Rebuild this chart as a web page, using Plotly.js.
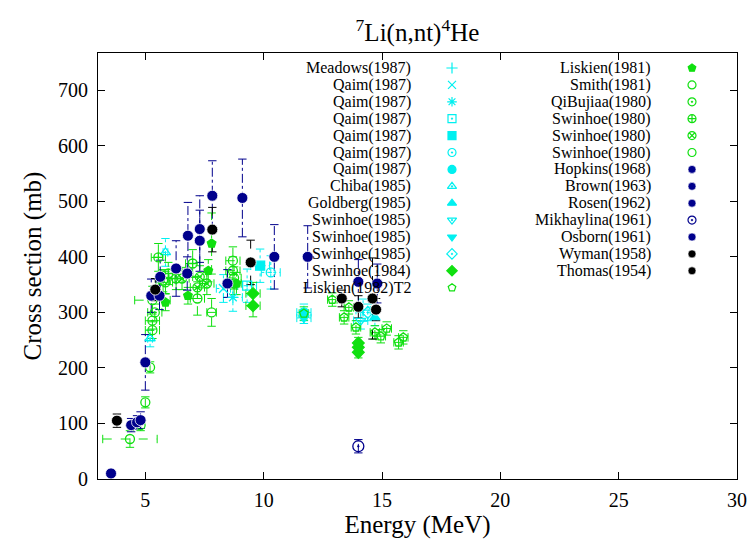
<!DOCTYPE html>
<html>
<head>
<meta charset="utf-8">
<script src="https://cdn.plot.ly/plotly-3.0.1.min.js"></script>
<style>html,body{margin:0;padding:0;background:#fff;}#chart{width:754px;height:540px;}</style>
</head>
<body>
<div id="chart"></div>
<script>
// Data rows: [Energy (MeV), cross section (mb), d sigma, d E]
const Meadows1987   = [[14.2, 304, 20, 0.3]];
const Qaim1987a     = [[8.3, 343, 25, 0.3]];
const Qaim1987b     = [[8.7, 327, 25, 0.4]];
const Qaim1987c     = [[9.3, 348, 30, 0.4]];
const Qaim1987d     = [[9.85, 384, 30, 0.4]];
const Qaim1987e     = [[10.3, 372, 30, 0.4]];
const Qaim1987f     = [[11.7, 300, 15, 0.3]];
const Chiba1985     = [[5.2, 253, 15, 0.1], [5.85, 408, 25, 0.1]];
const Goldberg1985  = [[14.7, 291, 15, 0]];
const Swinhoe1985a  = [[14.1, 285, 15, 0.3]];
const Swinhoe1985b  = [[11.7, 290, 10, 0.3]];
const Swinhoe1985c  = [[14.4, 300, 15, 0.3]];
const Swinhoe1984   = [[14.0, 228, 10, 0.1], [14.0, 237, 10, 0.1], [14.0, 245, 10, 0.1], [9.55, 334, 20, 0.3], [9.55, 312, 20, 0.3]];
const Liskien1982T2 = [[11.7, 298, 12, 0.2], [12.9, 323, 12, 0.2], [13.4, 291, 12, 0.2], [13.6, 309, 12, 0.2], [13.9, 273, 12, 0.2], [14.7, 264, 12, 0.2], [14.95, 257, 12, 0.2], [15.2, 271, 12, 0.2], [15.7, 246, 12, 0.2], [15.9, 255, 12, 0.2]];
const Liskien1981   = [[5.85, 318, 15, 0], [6.8, 330, 15, 0], [7.66, 375, 20, 0], [7.8, 424, 55, 0], [8.85, 352, 20, 0]];
const Smith1981     = [[4.35, 72, 15, 1.15], [4.8, 97, 10, 0], [5.0, 138, 10, 0], [5.2, 201, 10, 0]];
const QiBujiaa1980  = [[5.3, 268, 15, 0.3], [5.3, 285, 15, 0.3], [5.4, 300, 15, 0.3], [5.3, 322, 25, 0.75]];
const Swinhoe1980a  = [[5.55, 399, 25, 0.3], [5.97, 370, 20, 0.3], [6.3, 361, 20, 0.3], [7.0, 388, 25, 0.3]];
const Swinhoe1980b  = [[5.75, 357, 20, 0.3], [6.55, 361, 20, 0.3], [7.2, 345, 20, 0.3], [7.3, 364, 20, 0.3], [7.6, 352, 20, 0.3]];
const Swinhoe1980c  = [[5.85, 354, 20, 0.3], [7.2, 325, 30, 0.3], [8.7, 393, 25, 0.3], [8.7, 375, 25, 0.3], [8.75, 362, 20, 0.3], [8.75, 352, 20, 0.3], [7.8, 300, 25, 0.2]];
const Hopkins1968   = [[3.55, 10, 5, 0], [4.4, 97, 12, 0], [4.65, 102, 12, 0], [4.8, 106, 15, 0], [5.0, 210, 50, 0]];
const Brown1963     = [[5.25, 330, 30, 0], [5.6, 330, 25, 0], [5.63, 364, 30, 0]];
const Rosen1962     = [[6.3, 379, 50, 0], [6.8, 438, 60, 0], [7.3, 450, 60, 0], [7.3, 429, 55, 0], [7.83, 510, 63, 0], [9.1, 506, 70, 0], [10.45, 400, 58, 0], [11.86, 400, 56, 0]];
const Mikhaylina1961= [[14.0, 59, 12, 0]];
const Osborn1961    = [[6.77, 370, 30, 0], [8.47, 352, 25, 0], [14.0, 355, 40, 0], [14.8, 352, 35, 0]];
const Wyman1958     = [[3.8, 105, 12, 0], [5.42, 341, 20, 0], [7.83, 449, 40, 0], [9.45, 390, 40, 0], [14.75, 305, 20, 0]];
const Thomas1954    = [[13.3, 325, 15, 0], [14.6, 325, 73, 0], [14.0, 310, 20, 0]];

const xTicks = [5, 10, 15, 20, 25, 30];
const yTicks = [0, 100, 200, 300, 400, 500, 600, 700];

// Styles
const CY = '#00f0f0', GR = '#10e010', NV = '#00008c', BK = '#000000';
const series = [
  {name:'Meadows(1987)', d:Meadows1987, sym:'cross-thin-open', c:CY},
  {name:'Qaim(1987)', d:Qaim1987a, sym:'x-thin-open', c:CY},
  {name:'Qaim(1987)', d:Qaim1987b, sym:'asterisk-open', c:CY},
  {name:'Qaim(1987)', d:Qaim1987c, sym:'square-open-dot', c:CY},
  {name:'Qaim(1987)', d:Qaim1987d, sym:'square', c:CY},
  {name:'Qaim(1987)', d:Qaim1987e, sym:'circle-open-dot', c:CY},
  {name:'Qaim(1987)', d:Qaim1987f, sym:'circle', c:CY},
  {name:'Chiba(1985)', d:Chiba1985, sym:'triangle-up-open-dot', c:CY},
  {name:'Goldberg(1985)', d:Goldberg1985, sym:'triangle-up', c:CY},
  {name:'Swinhoe(1985)', d:Swinhoe1985a, sym:'triangle-down-open-dot', c:CY},
  {name:'Swinhoe(1985)', d:Swinhoe1985b, sym:'triangle-down', c:CY},
  {name:'Swinhoe(1985)', d:Swinhoe1985c, sym:'diamond-open-dot', c:CY},
  {name:'Swinhoe(1984)', d:Swinhoe1984, sym:'diamond', c:GR},
  {name:'Liskien(1982)T2', d:Liskien1982T2, sym:'pentagon-open', c:GR},
  {name:'Liskien(1981)', d:Liskien1981, sym:'pentagon', c:GR},
  {name:'Smith(1981)', d:Smith1981, sym:'circle-open', c:GR},
  {name:'QiBujiaa(1980)', d:QiBujiaa1980, sym:'circle-open-dot', c:GR},
  {name:'Swinhoe(1980)', d:Swinhoe1980a, sym:'circle-cross-open', c:GR},
  {name:'Swinhoe(1980)', d:Swinhoe1980b, sym:'circle-x-open', c:GR},
  {name:'Swinhoe(1980)', d:Swinhoe1980c, sym:'circle-open', c:GR},
  {name:'Hopkins(1968)', d:Hopkins1968, sym:'circle', c:NV},
  {name:'Brown(1963)', d:Brown1963, sym:'circle', c:NV},
  {name:'Rosen(1962)', d:Rosen1962, sym:'circle', c:NV},
  {name:'Mikhaylina(1961)', d:Mikhaylina1961, sym:'circle-open-dot', c:NV},
  {name:'Osborn(1961)', d:Osborn1961, sym:'circle', c:NV},
  {name:'Wyman(1958)', d:Wyman1958, sym:'circle', c:BK},
  {name:'Thomas(1954)', d:Thomas1954, sym:'circle', c:BK}
];
const dashFor = c => c === NV ? 'dashdot' : (c === CY ? 'dot' : 'dash');
const sizeFor = c => (c === NV || c === BK) ? 11 : 9;

const traces = [];
// error bars
series.forEach(s => {
  const vx = [], vy = [], hx = [], hy = [];
  s.d.forEach(r => {
    if (r[2] > 0) { vx.push(r[0], r[0], null); vy.push(r[1]-r[2], r[1]+r[2], null); }
    if (r[3] > 0) { hx.push(r[0]-r[3], r[0]+r[3], null); hy.push(r[1], r[1], null); }
  });
  const dash = dashFor(s.c);
  if (vx.length) traces.push({x:vx, y:vy, mode:'lines+markers', showlegend:false, hoverinfo:'skip',
    line:{color:s.c, width:1, dash:dash}, marker:{symbol:'line-ew-open', size:6, line:{color:s.c, width:1}}});
  if (hx.length) traces.push({x:hx, y:hy, mode:'lines+markers', showlegend:false, hoverinfo:'skip',
    line:{color:s.c, width:1, dash:dash}, marker:{symbol:'line-ns-open', size:6, line:{color:s.c, width:1}}});
});
// points
series.forEach(s => {
  const filled = !/open/.test(s.sym);
  traces.push({x:s.d.map(r=>r[0]), y:s.d.map(r=>r[1]), mode:'markers', name:s.name, showlegend:false,
    marker:{symbol:s.sym, size:sizeFor(s.c), color:s.c, line:{color: filled && (s.c===NV||s.c===BK) ? '#ffffff' : s.c, width: filled && (s.c===NV||s.c===BK) ? 0.8 : 1.3}}});
});

// key (legend) drawn in pixel-space overlay axes
const annotations = [];
series.forEach((s, i) => {
  const col = i < 14 ? 0 : 1;
  const row = i < 14 ? i : i - 14;
  const yk = 68 + 16.9 * row;
  const xt = col === 0 ? 413 : 653;
  const xm = col === 0 ? 452 : 692;
  annotations.push({x:xt, y:yk, xref:'x2', yref:'y2', text:s.name, showarrow:false, xanchor:'right', yanchor:'middle',
    font:{family:'Liberation Serif', size:16, color:'#000'}});
  const filled = !/open/.test(s.sym);
  traces.push({x:[xm], y:[yk], xaxis:'x2', yaxis:'y2', mode:'markers', showlegend:false, hoverinfo:'skip', cliponaxis:false,
    marker:{symbol:s.sym, size:8, color:s.c, line:{color: filled && (s.c===NV||s.c===BK) ? '#ffffff' : s.c, width: filled && (s.c===NV||s.c===BK) ? 0.6 : 1.2}}});
});

const font = {family:'Liberation Serif', color:'#000'};
const layout = {
  width:754, height:540,
  margin:{l:98, r:17, t:53, b:61},
  paper_bgcolor:'#fff', plot_bgcolor:'#fff',
  showlegend:false,
  title:{text:'<sup>7</sup>Li(n,nt)<sup>4</sup>He', x:0.5537, xanchor:'center', y:0.94, yanchor:'middle', font:Object.assign({size:25}, font)},
  xaxis:{range:[3,30], tickvals:xTicks, ticks:'inside', ticklen:7, tickcolor:'#000', showline:true, linecolor:'#000', linewidth:1, mirror:'ticks',
    showgrid:false, zeroline:false, tickfont:Object.assign({size:20}, font), ticklabelstandoff:3, title:{text:'Energy (MeV)', font:Object.assign({size:25}, font), standoff:2}},
  yaxis:{range:[0,767], tickvals:yTicks, ticks:'inside', ticklen:7, tickcolor:'#000', showline:true, linecolor:'#000', linewidth:1, mirror:'ticks',
    showgrid:false, zeroline:false, tickfont:Object.assign({size:20}, font), ticklabelstandoff:5, title:{text:'Cross section (mb)', font:Object.assign({size:25}, font), standoff:9}},
  xaxis2:{overlaying:'x', range:[98,737], visible:false, fixedrange:true},
  yaxis2:{overlaying:'y', range:[479,53], visible:false, fixedrange:true},
  annotations:annotations
};
Plotly.newPlot('chart', traces, layout, {displayModeBar:false, staticPlot:true});
</script>
</body>
</html>
